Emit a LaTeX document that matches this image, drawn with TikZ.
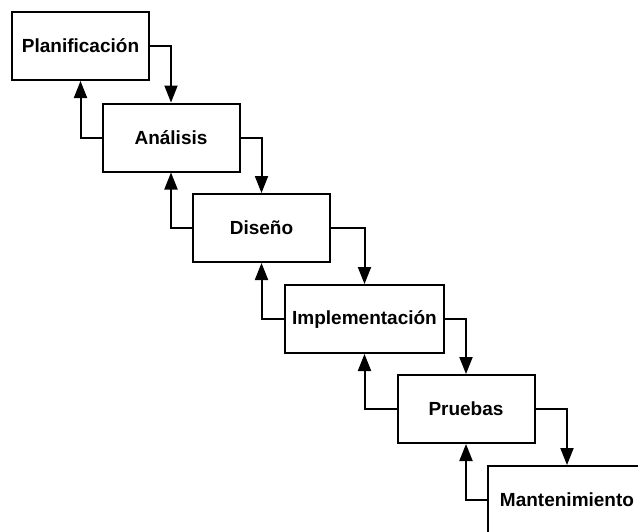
\documentclass[tikz,border=0pt]{standalone}
\usepackage{fontspec}
\setmainfont{Liberation Sans}
\usetikzlibrary{arrows.meta}

\begin{document}
\begin{tikzpicture}[x=0.5pt,y=-0.5pt,
  phase/.style={draw,line width=1pt,minimum width=68.5pt,minimum height=34pt,
    inner sep=0pt,font=\bfseries\fontsize{9.5}{11}\selectfont},
  flow/.style={line width=1pt,-{Triangle[length=8.5pt,width=6.5pt]}}]

\useasboundingbox (0,0) rectangle (638,531);

\node [phase] (plan) at (80.5,46) {Planificación};
\node [phase] (anal) at (171,137.5) {Análisis};
\node [phase] (dise) at (261.5,228) {Diseño};
\node [phase,minimum width=79.5pt] (impl) at (364.5,319) {Implementación};
\node [phase] (prue) at (466,409) {Pruebas};
\node [phase,minimum width=79pt] (mant) at (567,500) {Mantenimiento};

% forward steps
\draw [flow] (plan.east) -| (anal.north);
\draw [flow] (anal.east) -| (dise.north);
\draw [flow] (dise.east) -| (impl.north);
\draw [flow] (impl.east) -| (prue.north);
\draw [flow] (prue.east) -| (mant.north);

% feedback
\draw [flow] (anal.west) -| (plan.south);
\draw [flow] (dise.west) -| (anal.south);
\draw [flow] (impl.west) -| (dise.south);
\draw [flow] (prue.west) -| (impl.south);
\draw [flow] (mant.west) -| (prue.south);

\end{tikzpicture}
\end{document}
